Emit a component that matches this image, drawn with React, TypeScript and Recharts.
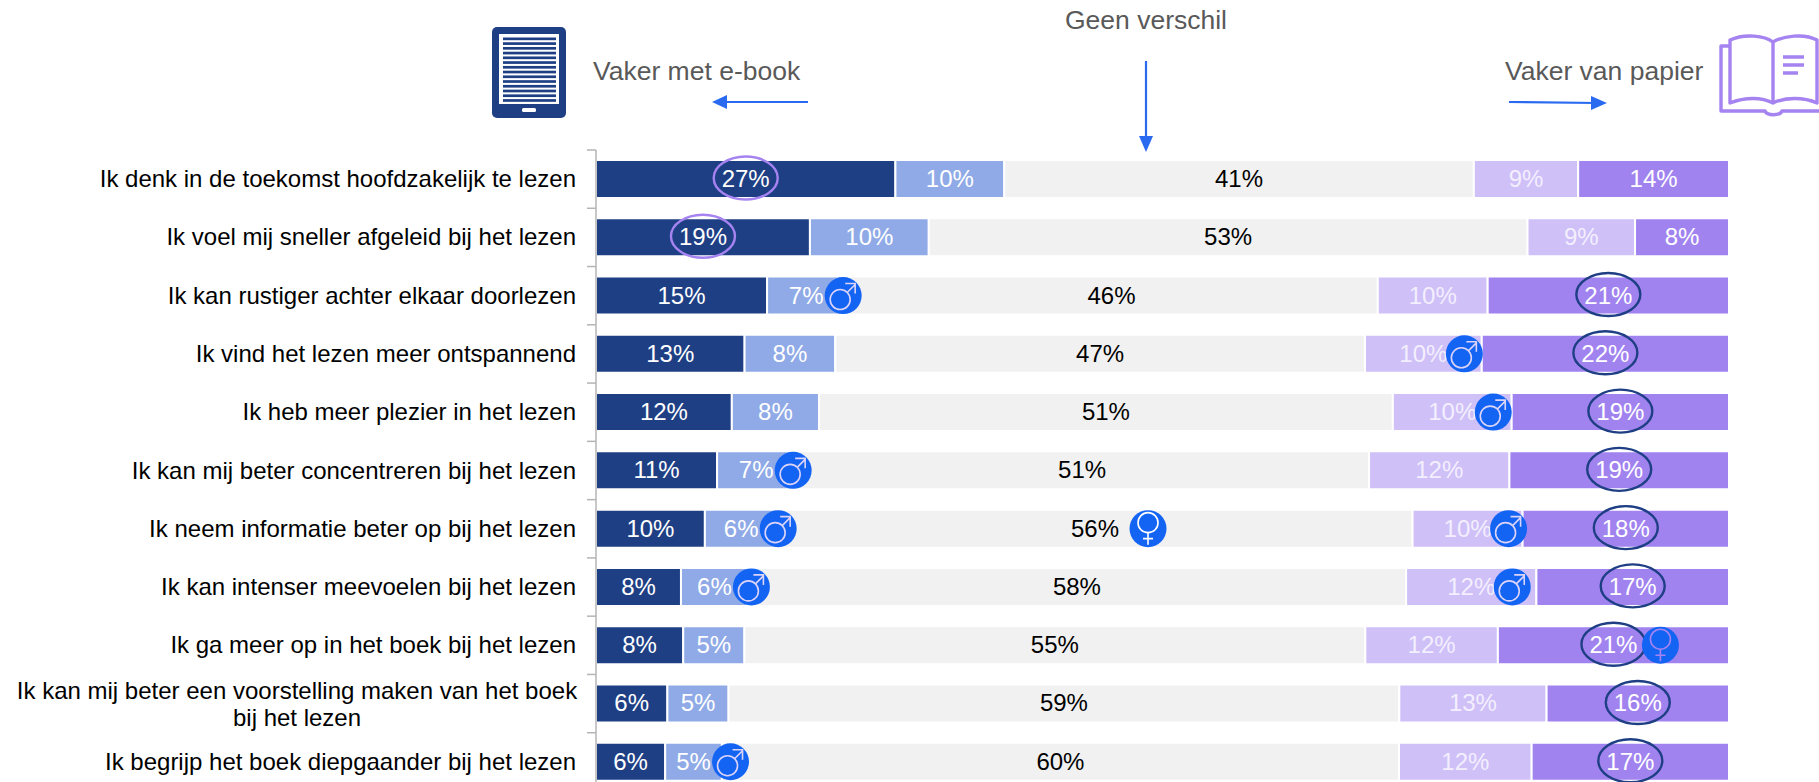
// App.tsx: e-book vs paper reading stacked bars
import { BarChart, Bar, XAxis, YAxis, LabelList } from "recharts";

const categories = [
  "Ik denk in de toekomst hoofdzakelijk te lezen",
  "Ik voel mij sneller afgeleid bij het lezen",
  "Ik kan rustiger achter elkaar doorlezen",
  "Ik vind het lezen meer ontspannend",
  "Ik heb meer plezier in het lezen",
  "Ik kan mij beter concentreren bij het lezen",
  "Ik neem informatie beter op bij het lezen",
  "Ik kan intenser meevoelen bij het lezen",
  "Ik ga meer op in het boek bij het lezen",
  "Ik kan mij beter een voorstelling maken van het boek\nbij het lezen",
  "Ik begrijp het boek diepgaander bij het lezen",
];

// segment widths (the printed labels are rounded separately)
const ebookMuch = [26.4, 18.9, 15.1, 13.1, 12.0, 10.7, 9.6, 7.5, 7.7, 6.3, 6.1];
const ebookSome = [9.6, 10.5, 6.9, 8.0, 7.7, 6.9, 6.4, 5.9, 5.4, 5.4, 5.0];
const noDiff = [41.4, 52.9, 47.0, 46.7, 50.7, 50.7, 56.0, 58.1, 54.8, 59.2, 59.7];
const paperSome = [9.2, 9.5, 9.7, 10.3, 10.5, 12.4, 9.7, 11.5, 11.7, 13.0, 11.7];
const paperMuch = [13.3, 8.3, 21.3, 21.8, 19.2, 19.4, 18.2, 17.0, 20.4, 16.1, 17.4];

const ebookMuchLabels = ["27%", "19%", "15%", "13%", "12%", "11%", "10%", "8%", "8%", "6%", "6%"];
const ebookSomeLabels = ["10%", "10%", "7%", "8%", "8%", "7%", "6%", "6%", "5%", "5%", "5%"];
const noDiffLabels = ["41%", "53%", "46%", "47%", "51%", "51%", "56%", "58%", "55%", "59%", "60%"];
const paperSomeLabels = ["9%", "9%", "10%", "10%", "10%", "12%", "10%", "12%", "12%", "13%", "12%"];
const paperMuchLabels = ["14%", "8%", "21%", "22%", "19%", "19%", "18%", "17%", "21%", "16%", "17%"];

// rows with a significance ring round the label
const ebookMuchRinged = [0, 1];
const paperMuchRinged = [2, 3, 4, 5, 6, 7, 8, 9, 10];

// gender badge next to a label, by row
const ebookSomeBadges = { 2: "m", 5: "m", 6: "m", 7: "m", 10: "m" };
const noDiffBadges = { 6: "f" };
const paperSomeBadges = { 3: "m", 4: "m", 6: "m", 7: "m" };
const paperMuchBadges = { 8: "f" };

const rows = categories.map((name, i) => ({
  name,
  ebookMuch: ebookMuch[i],
  ebookSome: ebookSome[i],
  noDiff: noDiff[i],
  paperSome: paperSome[i],
  paperMuch: paperMuch[i],
}));

const W = 1819;
const H = 800;
const TOP = 150;
const BOTTOM = 9;
const LEFT = 596;
const RIGHT = 90;
const ROW = (H - TOP - BOTTOM) / categories.length;
const FONT = "'Liberation Sans', Arial, sans-serif";

function Badge({ cx, cy, kind, color }: any) {
  return (
    <g fill="none" stroke={color} strokeWidth={1.6}>
      <circle cx={cx} cy={cy} r={18.5} fill="#1464f4" stroke="none" />
      {kind === "m" ? (
        <>
          <circle cx={cx - 3} cy={cy + 4} r={10} />
          <path d={`M${cx + 4} ${cy - 3} L${cx + 12} ${cy - 11} M${cx + 2} ${cy - 12} L${cx + 12} ${cy - 12} L${cx + 12} ${cy - 2}`} />
        </>
      ) : (
        <>
          <circle cx={cx} cy={cy - 6} r={10} />
          <path d={`M${cx} ${cy + 4} L${cx} ${cy + 16} M${cx - 5} ${cy + 10} L${cx + 5} ${cy + 10}`} />
        </>
      )}
    </g>
  );
}

function segmentLabel(
  labels: string[],
  color: string,
  ringed: number[] = [],
  ringColor = "#1f3f85",
  badges: Record<number, string> = {},
  badgeOffset = 40,
  badgeColor = "#dcd4f8",
) {
  return (props: any) => {
    const { x, y, width, height, index } = props;
    const cx = x + width / 2;
    const cy = y + height / 2;
    return (
      <g>
        {ringed.includes(index) && (
          <ellipse cx={cx} cy={cy - 1} rx={32} ry={21.5} fill="none" stroke={ringColor} strokeWidth={2.4} />
        )}
        <text x={cx} y={cy + 8} textAnchor="middle" fontFamily={FONT} fontSize={24} fill={color}>
          {labels[index]}
        </text>
        {badges[index] && <Badge cx={cx + badgeOffset} cy={cy} kind={badges[index]} color={badgeColor} />}
      </g>
    );
  };
}

function CategoryTick({ x, y, payload }: any) {
  const lines = String(payload.value).split("\n");
  const twoLines = lines.length > 1;
  return (
    <g>
      <line x1={x - 1} x2={x + 8} y1={y - ROW / 2} y2={y - ROW / 2} stroke="#b5b5b5" strokeWidth={1.5} />
      {twoLines ? (
        <text fontFamily={FONT} fontSize={24} fill="#000" textAnchor="middle">
          {lines.map((l, i) => (
            <tspan key={i} x={x - 291} y={y - 5 + i * 27}>{l}</tspan>
          ))}
        </text>
      ) : (
        <text x={x - 12} y={y + 8} fontFamily={FONT} fontSize={24} fill="#000" textAnchor="end">
          {lines[0]}
        </text>
      )}
    </g>
  );
}

function TabletIcon() {
  const lines = [];
  for (let i = 0; i < 14; i++) lines.push(<rect key={i} x={503} y={37.5 + i * 4.74} width={53} height={2.7} fill="#1f3f85" />);
  return (
    <g>
      <rect x={492} y={27} width={74} height={91} rx={5} fill="#1f3f85" />
      <rect x={499} y={34} width={60} height={70} fill="#fff" />
      {lines}
      <rect x={522} y={108} width={14} height={4} rx={1.5} fill="#fff" />
    </g>
  );
}

function BookIcon() {
  return (
    <g fill="none" stroke="#a583f0" strokeWidth={3.4} strokeLinejoin="round">
      <path d="M1773 42 C1765 36 1745 33 1730 40 L1730 103 C1745 97 1762 97 1773 103 C1785 97 1804 97 1817 103 L1817 40 C1804 33 1783 36 1773 42 Z" />
      <path d="M1773 42 L1773 103" />
      <path d="M1730 46 L1721 46 L1721 111 L1765 111 C1767 116 1780 116 1782 111 L1819 111" />
      <path d="M1783 57 L1804 57 M1783 65 L1804 65 M1783 73 L1798 73" strokeWidth={3.6} />
    </g>
  );
}

function Arrow({ d, head }: any) {
  return (
    <g>
      <path d={d} stroke="#2a6af0" strokeWidth={2.2} fill="none" />
      <path d={head} fill="#2a6af0" />
    </g>
  );
}

export default function App() {
  return (
    <div style={{ position: "fixed", left: 0, top: 0, width: W, height: 782, overflow: "hidden", background: "#fff" }}>
      <div style={{ position: "absolute", left: 0, top: 0 }}>
        <BarChart
          width={W}
          height={H}
          data={rows}
          layout="vertical"
          stackOffset="expand"
          barSize={38}
          margin={{ top: TOP, right: RIGHT, bottom: BOTTOM, left: 0 }}
        >
          <XAxis type="number" domain={[0, 1]} hide />
          <YAxis
            type="category"
            dataKey="name"
            width={LEFT}
            interval={0}
            tickLine={false}
            tick={CategoryTick}
            axisLine={{ stroke: "#b5b5b5", strokeWidth: 1.5 }}
          />
          <Bar dataKey="ebookMuch" stackId="a" fill="#1f3f85" stroke="#fff" strokeWidth={2} isAnimationActive={false}>
            <LabelList content={segmentLabel(ebookMuchLabels, "#fff", ebookMuchRinged, "#a583f0")} />
          </Bar>
          <Bar dataKey="ebookSome" stackId="a" fill="#8faae6" stroke="#fff" strokeWidth={2} isAnimationActive={false}>
            <LabelList content={segmentLabel(ebookSomeLabels, "#fff", [], "", ebookSomeBadges, 37)} />
          </Bar>
          <Bar dataKey="noDiff" stackId="a" fill="#f1f1f1" stroke="#fff" strokeWidth={2} isAnimationActive={false}>
            <LabelList content={segmentLabel(noDiffLabels, "#000", [], "", noDiffBadges, 53, "#fff")} />
          </Bar>
          <Bar dataKey="paperSome" stackId="a" fill="#cfc0f8" stroke="#fff" strokeWidth={2} isAnimationActive={false}>
            <LabelList content={segmentLabel(paperSomeLabels, "#f3effe", [], "", paperSomeBadges, 41)} />
          </Bar>
          <Bar dataKey="paperMuch" stackId="a" fill="#a183f0" stroke="#fff" strokeWidth={2} isAnimationActive={false}>
            <LabelList content={segmentLabel(paperMuchLabels, "#fff", paperMuchRinged, "#1f3f85", paperMuchBadges, 47, "#a583f0")} />
          </Bar>
        </BarChart>
      </div>
      <svg width={W} height={782} style={{ position: "absolute", left: 0, top: 0, pointerEvents: "none" }}>
        <TabletIcon />
        <BookIcon />
        <text x={593} y={80} fontFamily={FONT} fontSize={26.5} fill="#595959">Vaker met e-book</text>
        <text x={1146} y={29} textAnchor="middle" fontFamily={FONT} fontSize={26.5} fill="#595959">Geen verschil</text>
        <text x={1505} y={80} fontFamily={FONT} fontSize={26.5} fill="#595959">Vaker van papier</text>
        <Arrow d="M808 102 L722 102" head="M712 102 L727 95 L727 109 Z" />
        <Arrow d="M1509 102 L1597 103" head="M1607 103 L1591 96 L1591 110 Z" />
        <Arrow d="M1146 61 L1146 140" head="M1146 152 L1139 136 L1153 136 Z" />
      </svg>
    </div>
  );
}
